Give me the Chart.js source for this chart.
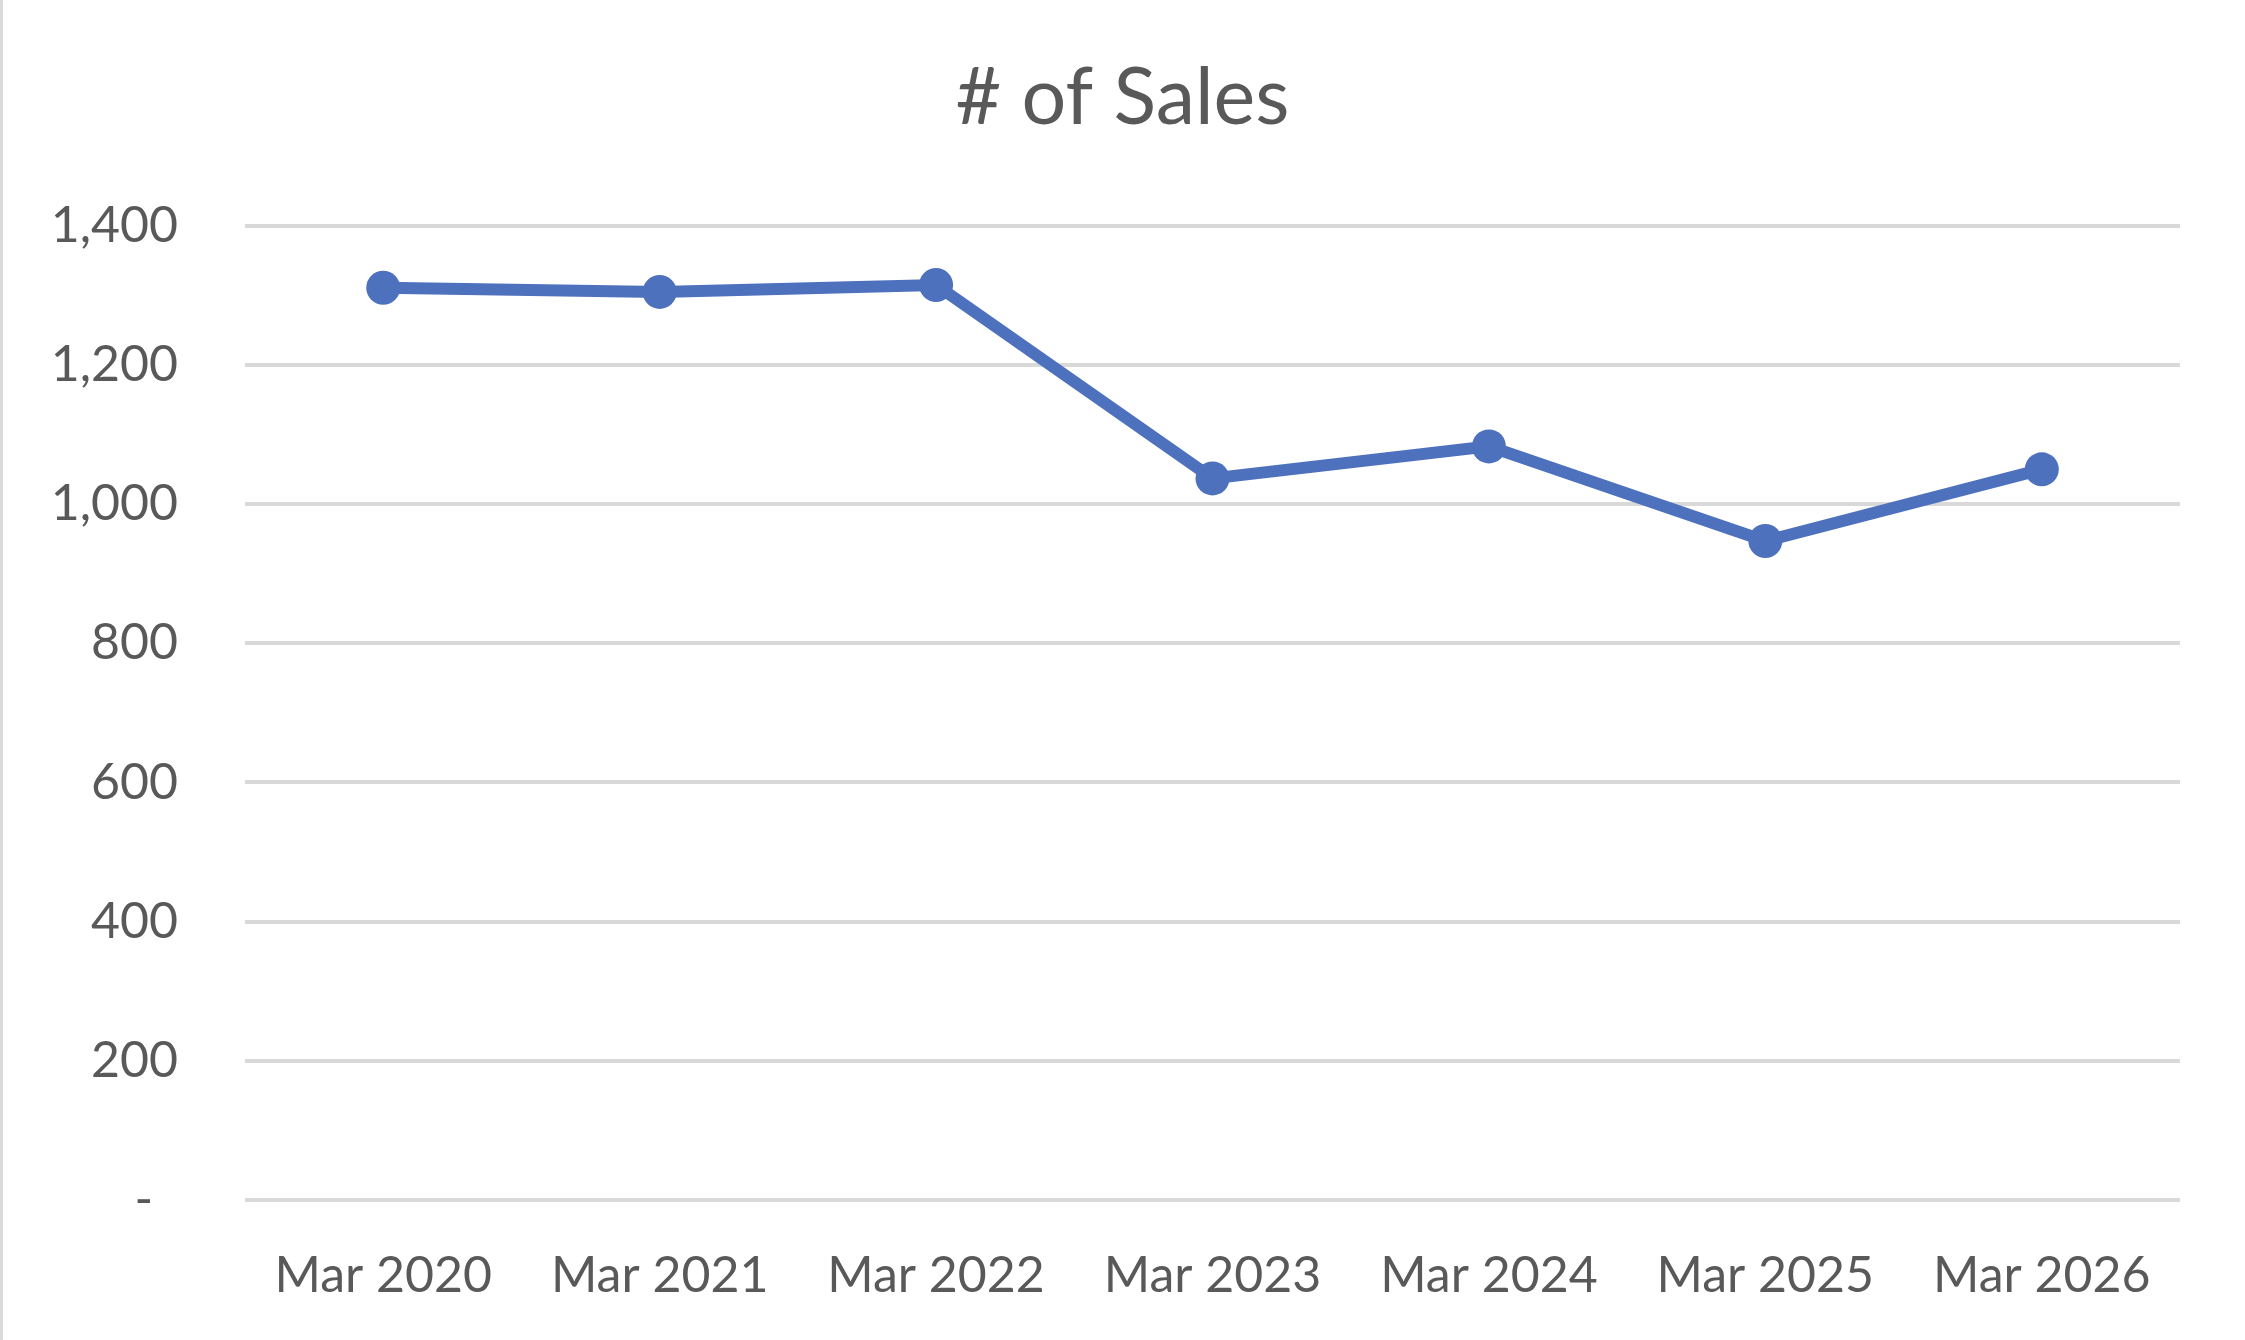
<!DOCTYPE html>
<html>
<head>
<meta charset="utf-8">
<script src="https://cdn.jsdelivr.net/npm/chart.js@4/dist/chart.umd.min.js"></script>
<style>
    html, body { margin: 0; padding: 0; background: #ffffff; }
    #wrap { width: 2245px; height: 1340px; }
</style>
</head>
<body>
<div id="wrap"><canvas id="salesChart"></canvas></div>
<script>
// data
var categories = ['Mar 2020', 'Mar 2021', 'Mar 2022', 'Mar 2023', 'Mar 2024', 'Mar 2025', 'Mar 2026'];
var salesCounts = [1311, 1305, 1315, 1037, 1083, 947, 1050];
var yTicks = [0, 200, 400, 600, 800, 1000, 1200, 1400];

var textColor = '#595959';
var lineColor = '#4E71BE';
var gridColor = '#D9D9D9';
var fontFamily = 'Lato, "Open Sans", sans-serif';

// white background and the thin grey frame line on the left
var framePlugin = {
    id: 'frame',
    beforeDraw: function (chart) {
        var ctx = chart.ctx;
        ctx.save();
        ctx.fillStyle = '#ffffff';
        ctx.fillRect(0, 0, chart.width, chart.height);
        ctx.fillStyle = gridColor;
        ctx.fillRect(0, 0, 3, chart.height);
        ctx.restore();
    }
};

var ctx = document.getElementById('salesChart').getContext('2d');
var salesChart = new Chart(ctx, {
    type: 'line',
    data: {
        labels: categories,
        datasets: [{
            label: '# of Sales',
            data: salesCounts,
            borderColor: lineColor,
            backgroundColor: lineColor,
            borderWidth: 12,
            pointRadius: 17,
            pointHoverRadius: 17,
            pointBorderWidth: 0,
            tension: 0
        }]
    },
    options: {
        responsive: true,
        maintainAspectRatio: false,
        animation: false,
        layout: {
            padding: { top: 51, right: 0, bottom: 0, left: 0 }
        },
        plugins: {
            legend: { display: false },
            tooltip: { enabled: false },
            title: {
                display: true,
                text: '# of Sales',
                color: textColor,
                font: { family: fontFamily, size: 79, weight: 'normal' },
                padding: { top: 0, bottom: 80 }
            }
        },
        scales: {
            x: {
                offset: true,
                grid: { display: false },
                border: { display: false },
                ticks: {
                    color: textColor,
                    font: { family: fontFamily, size: 50 },
                    padding: 38,
                    maxRotation: 0
                },
                afterFit: function (scale) {
                    scale.height = 140;
                }
            },
            y: {
                min: 0,
                max: 1400,
                afterBuildTicks: function (scale) {
                    scale.ticks = yTicks.map(function (v) { return { value: v }; });
                },
                grid: {
                    color: gridColor,
                    lineWidth: 4,
                    drawTicks: false
                },
                border: { display: false },
                ticks: {
                    color: textColor,
                    font: { family: fontFamily, size: 50 },
                    padding: 67,
                    callback: function (value) {
                        return value === 0 ? '-\u2002' : value.toLocaleString('en-US');
                    }
                },
                afterFit: function (scale) {
                    scale.width = 245;
                }
            },
            // empty right-hand axis, only keeps the right margin so the title stays centred on the page
            yRight: {
                position: 'right',
                min: 0,
                max: 1400,
                grid: { display: false },
                border: { display: false },
                ticks: { display: false },
                afterFit: function (scale) {
                    scale.width = 65;
                }
            }
        }
    },
    plugins: [framePlugin]
});
</script>
</body>
</html>
